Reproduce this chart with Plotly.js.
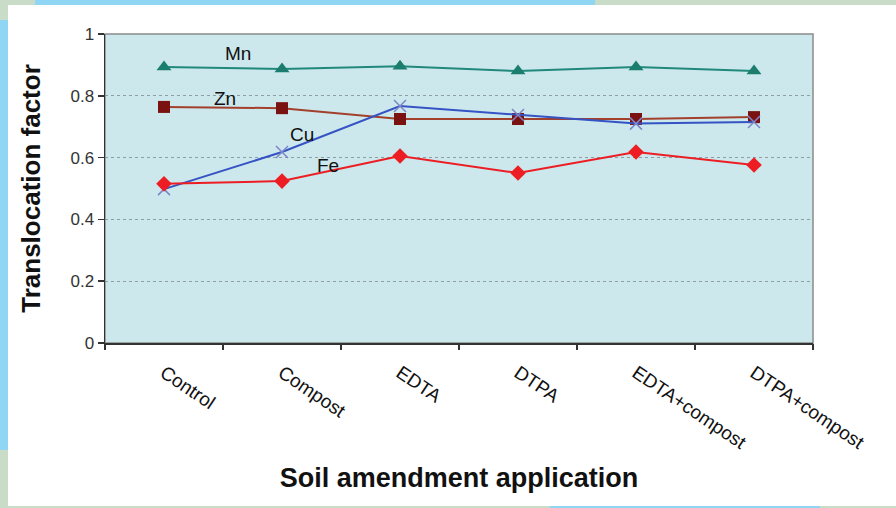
<!DOCTYPE html>
<html>
<head>
<meta charset="utf-8">
<script src="https://cdn.plot.ly/plotly-3.0.1.min.js"></script>
<style>
  html, body { margin: 0; padding: 0; width: 896px; height: 508px; overflow: hidden; }
  body { position: relative; background: #c8dcc8; }
  .deco { position: absolute; }
  #chart { position: absolute; left: 8px; top: 5px; width: 888px; height: 501px; }
</style>
</head>
<body>
<div class="deco" style="left:35px;top:0;width:560px;height:5px;background:#8fd6f5;"></div>
<div class="deco" style="left:0;top:20px;width:8px;height:430px;background:#8fd6f5;"></div>
<div class="deco" style="left:550px;top:505px;width:270px;height:3px;background:#8fd6f5;"></div>
<div id="chart"></div>
<script>
// ---- data ----
const categories = ["Control", "Compost", "EDTA", "DTPA", "EDTA+compost", "DTPA+compost"];
const seriesNames = ["Mn", "Zn", "Cu", "Fe"];
const mnValues = [0.893, 0.887, 0.896, 0.880, 0.893, 0.880];
const znValues = [0.764, 0.760, 0.725, 0.725, 0.725, 0.731];
const cuValues = [0.498, 0.618, 0.767, 0.738, 0.710, 0.715];
const feValues = [0.515, 0.524, 0.605, 0.550, 0.618, 0.576];
const yTickValues = [0, 0.2, 0.4, 0.6, 0.8, 1];
const yTickLabels = ["0", "0.2", "0.4", "0.6", "0.8", "1"];
// label positions for series names (category index, value)
const labelX = [0.626, 0.516, 1.167, 1.387];
const labelY = [0.938, 0.790, 0.676, 0.576];

const xIdx = categories.map((c, i) => i);

const traces = [
  { name: seriesNames[0], x: xIdx, y: mnValues, mode: "lines+markers",
    line: { color: "#21897c", width: 2 },
    marker: { symbol: "triangle-up", size: 13, color: "#1b7d6e" } },
  { name: seriesNames[1], x: xIdx, y: znValues, mode: "lines+markers",
    line: { color: "#a3402c", width: 2 },
    marker: { symbol: "square", size: 12, color: "#7a1212" } },
  { name: seriesNames[2], x: xIdx, y: cuValues, mode: "lines+markers",
    line: { color: "#3553c4", width: 2 },
    marker: { symbol: "x-thin-open", size: 12, color: "#7f86c8", line: { width: 1.5, color: "#7f86c8" } } },
  { name: seriesNames[3], x: xIdx, y: feValues, mode: "lines+markers",
    line: { color: "#ec1e24", width: 2 },
    marker: { symbol: "diamond", size: 12, color: "#ec1e24" } }
];

const annotations = seriesNames.map((n, i) => ({
  x: labelX[i], y: labelY[i], xref: "x", yref: "y", text: n, showarrow: false,
  font: { family: "Liberation Sans, Arial, sans-serif", size: 19, color: "#111" }
}));

const layout = {
  width: 888, height: 501,
  margin: { l: 97, r: 83, t: 29, b: 163 },
  paper_bgcolor: "#ffffff",
  plot_bgcolor: "#cce8ed",
  showlegend: false,
  font: { family: "Liberation Sans, Arial, sans-serif", color: "#222" },
  xaxis: {
    type: "linear",
    range: [-0.5, 5.5],
    tickmode: "array",
    tickvals: xIdx,
    ticktext: categories,
    tickangle: 34,
    tickfont: { size: 19, color: "#111" },
    ticklabelstandoff: 10,
    ticks: "",
    showgrid: false,
    zeroline: false,
    showline: true, linecolor: "#333", linewidth: 1.5,
    title: { text: "Soil amendment application", font: { size: 27, color: "#111", family: "Liberation Sans, Arial, sans-serif", weight: "bold" }, standoff: 16 }
  },
  xaxis2: {
    overlaying: "x", anchor: "y", range: [-0.5, 5.5], side: "bottom",
    tickmode: "array", tickvals: [-0.5, 0.5, 1.5, 2.5, 3.5, 4.5, 5.5], ticktext: ["", "", "", "", "", "", ""],
    ticks: "outside", ticklen: 6, tickcolor: "#333", tickwidth: 1.5,
    showgrid: false, zeroline: false, showline: false
  },
  yaxis: {
    range: [0, 1],
    tickmode: "array",
    tickvals: yTickValues,
    ticktext: yTickLabels,
    tickfont: { size: 17, color: "#333" },
    ticks: "outside", ticklen: 6, tickcolor: "#333", tickwidth: 1.5,
    showgrid: true, gridcolor: "#8c9ea2", gridwidth: 1, griddash: "3px,3px",
    zeroline: false,
    showline: true, linecolor: "#333", linewidth: 1.5,
    title: { text: "Translocation factor", font: { size: 26, color: "#111", family: "Liberation Sans, Arial, sans-serif", weight: "bold" }, standoff: 22 }
  },
  shapes: [
    { type: "rect", xref: "paper", yref: "paper", x0: 0, x1: 1, y0: 0, y1: 1,
      line: { color: "#8a8a8a", width: 1.5 }, layer: "below" }
  ],
  annotations: annotations
};

// invisible trace to enable xaxis2 boundary ticks
traces.push({ x: [0], y: [0], xaxis: "x2", yaxis: "y", mode: "markers", marker: { opacity: 0 }, hoverinfo: "skip", showlegend: false });

Plotly.newPlot("chart", traces, layout, { displayModeBar: false, staticPlot: true });
</script>
</body>
</html>
